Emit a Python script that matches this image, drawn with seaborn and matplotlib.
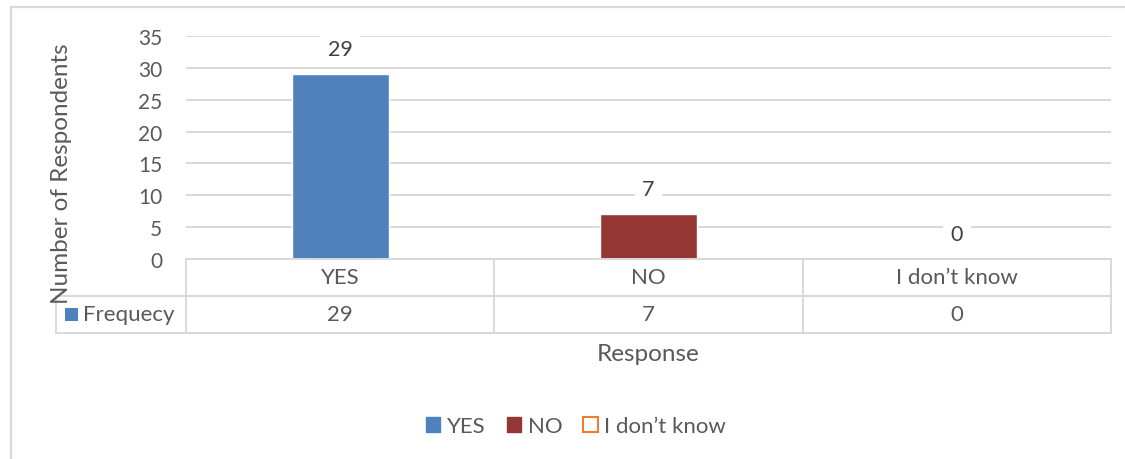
import matplotlib
matplotlib.use("Agg")
import matplotlib.pyplot as plt
from matplotlib.lines import Line2D
from matplotlib.patches import Patch, Rectangle
import seaborn as sns
import pandas as pd

# ---- data ----
categories = ["YES", "NO", "I don\u2019t know"]
values = [29, 7, 0]
series_name = "Frequecy"
y_ticks = [0, 5, 10, 15, 20, 25, 30, 35]
colors = ["#4F81BD", "#953735", "#ED7D31"]

sns.set_theme(style="white")
plt.rcParams["font.family"] = ["Lato", "DejaVu Sans"]
TXT = "#595959"
GRID = "#D9D9D9"

W, H = 1125, 460
fig = plt.figure(figsize=(W / 100, H / 100), dpi=100)


def fx(x):
    return x / W


def fy(y):
    return 1 - y / H


# plot area
L, R, T, B = 186, 1111, 37, 260
ax = fig.add_axes([fx(L), fy(B), fx(R) - fx(L), fy(T) - fy(B)])

df = pd.DataFrame({"Response": categories, "Count": values})
sns.barplot(data=df, x="Response", y="Count", hue="Response",
            palette=dict(zip(categories, colors)), width=0.315,
            legend=False, ax=ax, zorder=3, saturation=1)

ax.set_ylim(0, 35)
ax.set_xlim(-0.5, len(categories) - 0.5)
ax.set_yticks(y_ticks)
ax.set_yticklabels([str(t) for t in y_ticks], color=TXT, fontsize=15)
ax.tick_params(axis="y", length=0, pad=17)
ax.set_xticks([])
ax.set_xlabel("")
ax.set_ylabel("")
for s in ax.spines.values():
    s.set_visible(False)
for t in y_ticks:
    ax.axhline(t, color=GRID, lw=1.4, zorder=1)

# data labels
for i, v in enumerate(values):
    ax.annotate(str(v), (i, v), xytext=(0, 18), textcoords="offset points",
                ha="center", va="center", fontsize=15.5, color="#404040",
                bbox=dict(boxstyle="square,pad=0.35", fc="white", ec="none"),
                zorder=4)

# y label
fig.text(fx(62), fy(174), "Number of Respondents", rotation=90,
         ha="center", va="center", fontsize=17.5, color=TXT)

# ---- data table ----
col_edges = [L + (R - L) * k / len(categories) for k in range(len(categories) + 1)]
r0, r1, r2 = 260, 297, 334
lw = 1.4


def line(x0, y0, x1, y1):
    fig.add_artist(Line2D([fx(x0), fx(x1)], [fy(y0), fy(y1)],
                          color=GRID, lw=lw, transform=fig.transFigure))


line(L, r0, R, r0)
line(56, r1, R, r1)
line(56, r2, R, r2)
line(56, r1, 56, r2)
for xe in col_edges:
    line(xe, r0, xe, r2)

for k, (c, v) in enumerate(zip(categories, values)):
    cx = (col_edges[k] + col_edges[k + 1]) / 2
    fig.text(fx(cx), fy((r0 + r1) / 2), c, ha="center", va="center",
             fontsize=16, color=TXT)
    fig.text(fx(cx), fy((r1 + r2) / 2), str(v), ha="center", va="center",
             fontsize=16, color=TXT)

fig.add_artist(Rectangle((fx(65), fy(322)), fx(13), fy(309) - fy(322),
                         fc=colors[0], ec="none", transform=fig.transFigure))
fig.text(fx(83), fy((r1 + r2) / 2), series_name, ha="left", va="center",
         fontsize=16, color=TXT)

# x axis title
fig.text(fx((L + R) / 2), fy(355), "Response", ha="center", va="center",
         fontsize=17.5, color=TXT)

# legend
handles = [Patch(fc=colors[0], ec=colors[0]),
           Patch(fc=colors[1], ec=colors[1]),
           Patch(fc="white", ec=colors[2], lw=1.5)]
fig.legend(handles, categories, loc="center", bbox_to_anchor=(fx(576), fy(427)),
           ncol=3, frameon=False, fontsize=16, labelcolor=TXT,
           handlelength=0.65, handleheight=0.65, handletextpad=0.3,
           columnspacing=0.95)

# chart frame
fig.add_artist(Rectangle((fx(11), fy(470)), fx(1130) - fx(11), fy(8) - fy(470),
                         fc="none", ec=GRID, lw=1.6, transform=fig.transFigure))

fig.savefig("out.png", dpi=100)
